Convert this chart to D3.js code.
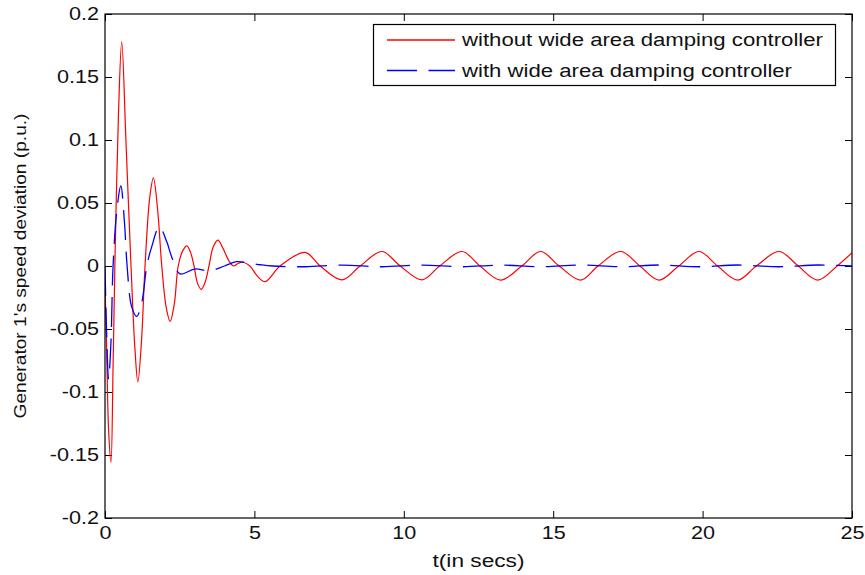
<!DOCTYPE html>
<html>
<head>
<meta charset="utf-8">
<script src="https://cdn.jsdelivr.net/npm/d3@7/dist/d3.min.js"></script>
<style>
  body { margin: 0; background: #fff; }
  text { font-family: "Liberation Sans", Arial, sans-serif; fill: #111; }
</style>
</head>
<body>
<svg id="chart" width="865" height="575"></svg>
<script>
// values: time (s) and speed deviation (p.u.)
var redT = [0, 0.05, 0.12, 0.2, 0.27, 0.33, 0.45, 0.56, 0.7, 0.87, 1.0, 1.1, 1.22, 1.34, 1.5, 1.62, 1.76, 1.9, 2.05, 2.18, 2.32, 2.45, 2.6, 2.74, 2.86, 2.98, 3.1, 3.22, 3.35, 3.48, 3.62, 3.78, 3.95, 4.15, 4.3, 4.45, 4.62, 4.85, 5.1, 5.36, 5.86, 6.7, 7.2, 7.93, 8.54, 9.27, 9.88, 10.61, 11.2, 11.95, 12.55, 13.24, 13.95, 14.58, 15.2, 15.92, 16.5, 17.26, 17.9, 18.54, 19.2, 19.88, 20.5, 21.17, 21.8, 22.56, 23.2, 23.85, 24.5, 25];
var redV = [-0.015, -0.06, -0.13, -0.156, -0.08, 0.0, 0.12, 0.178, 0.1, 0.0, -0.065, -0.092, -0.06, 0.0, 0.055, 0.07, 0.045, 0.0, -0.033, -0.044, -0.03, 0.0, 0.012, 0.016, 0.011, 0.0, -0.014, -0.0185, -0.013, 0.0, 0.015, 0.0206, 0.014, 0.004, 0.0, 0.002, 0.003, 0.0, -0.008, -0.0124, 0.0, 0.0108, 0.0, -0.011, 0.0, 0.0115, 0.0, -0.011, 0.0, 0.0115, 0.0, -0.0112, 0.0, 0.0115, 0.0, -0.0112, 0.0, 0.0115, 0.0, -0.0112, 0.0, 0.0115, 0.0, -0.0112, 0.0, 0.0115, 0.0, -0.0112, 0.0, 0.0105];

var blueT = [0, 0.05, 0.12, 0.2, 0.27, 0.4, 0.53, 0.65, 0.74, 0.89, 1.06, 1.23, 1.4, 1.56, 1.82, 2.07, 2.23, 2.51, 3.0, 3.5, 4.0, 4.4, 4.75, 5.2, 5.6, 6.7, 7.93, 9.27, 10.61, 11.95, 13.24, 14.58, 15.92, 17.26, 18.54, 19.88, 21.17, 22.56, 23.85, 25];
var blueV = [0, -0.05, -0.09, -0.06, 0.0, 0.045, 0.0635, 0.035, 0.0, -0.032, -0.04, -0.029, 0.0, 0.015, 0.031, 0.019, 0.0074, -0.0063, -0.0024, -0.0037, 0.0, 0.0034, 0.0026, 0.001, 0.0, -0.0006, 0.0007, -0.0006, 0.0007, -0.0006, 0.0007, -0.0006, 0.0008, -0.0006, 0.0008, -0.0006, 0.0008, -0.0006, 0.0008, 0.0];

var seriesNames = ["without wide area damping controller", "with wide area damping controller"];
var xTicks = [0, 5, 10, 15, 20, 25];
var yTicks = [-0.2, -0.15, -0.1, -0.05, 0, 0.05, 0.1, 0.15, 0.2];

var plotLeft = 105, plotRight = 852, plotTop = 14, plotBottom = 518;
var svg = d3.select("#chart");

var x = d3.scaleLinear().domain([0, 25]).range([plotLeft, plotRight]);
var y = d3.scaleLinear().domain([-0.2, 0.2]).range([plotBottom, plotTop]);

// clip lines to plot box
svg.append("clipPath").attr("id", "clip")
    .append("rect")
    .attr("x", plotLeft).attr("y", plotTop)
    .attr("width", plotRight - plotLeft).attr("height", plotBottom - plotTop);

// axes, ticks pointing inward like matlab
var fmt = function (d) { return String(+d.toFixed(2)); };

svg.append("g")
    .attr("class", "y-axis")
    .attr("transform", "translate(" + plotLeft + ",0)")
    .call(d3.axisLeft(y).tickValues(yTicks).tickFormat(fmt).tickSizeInner(-7).tickSizeOuter(0).tickPadding(6));

svg.append("g")
    .attr("transform", "translate(" + plotRight + ",0)")
    .call(d3.axisRight(y).tickValues(yTicks).tickFormat("").tickSizeInner(-7).tickSizeOuter(0));

svg.append("g")
    .attr("class", "x-axis")
    .attr("transform", "translate(0," + plotBottom + ")")
    .call(d3.axisBottom(x).tickValues(xTicks).tickFormat(d3.format("d")).tickSizeInner(-7).tickSizeOuter(0).tickPadding(8));

svg.append("g")
    .attr("transform", "translate(0," + plotTop + ")")
    .call(d3.axisTop(x).tickValues(xTicks).tickFormat("").tickSizeInner(-7).tickSizeOuter(0));

svg.selectAll(".domain").remove();
svg.selectAll(".tick line").attr("stroke", "#000");
svg.selectAll(".tick text").attr("font-size", 18).attr("fill", "#111")
    .style("font-family", "'Liberation Sans', Arial, sans-serif");

// lines
var line = d3.line()
    .x(function (d) { return x(d[0]); })
    .y(function (d) { return y(d[1]); })
    .curve(d3.curveCatmullRom.alpha(0.5));

var redData = redT.map(function (t, i) { return [t, redV[i]]; });
var blueData = blueT.map(function (t, i) { return [t, blueV[i]]; });

var plot = svg.append("g").attr("clip-path", "url(#clip)");

plot.append("path")
    .datum(redData)
    .attr("d", line)
    .attr("fill", "none")
    .attr("stroke", "#ff0000")
    .attr("stroke-width", 1.2);

plot.append("path")
    .datum(blueData)
    .attr("d", line)
    .attr("fill", "none")
    .attr("stroke", "#0000ff")
    .attr("stroke-width", 1.3)
    .attr("stroke-dasharray", "30,11.5");

// box
svg.append("rect")
    .attr("x", plotLeft).attr("y", plotTop)
    .attr("width", plotRight - plotLeft).attr("height", plotBottom - plotTop)
    .attr("fill", "none")
    .attr("stroke", "#000")
    .attr("stroke-width", 1.2);

// legend
var legend = svg.append("g").attr("class", "legend");
legend.append("rect")
    .attr("x", 373.5).attr("y", 24.5)
    .attr("width", 462).attr("height", 61)
    .attr("fill", "#fff")
    .attr("stroke", "#000")
    .attr("stroke-width", 1.2);

var legendColors = ["#ff0000", "#0000ff"];
var legendDash = [null, "30,11.5"];
var legendLen = [361, 330];

seriesNames.forEach(function (name, i) {
    var ly = 40 + i * 30.5;
    legend.append("line")
        .attr("x1", 387).attr("x2", 455)
        .attr("y1", ly).attr("y2", ly)
        .attr("stroke", legendColors[i])
        .attr("stroke-width", 1.3)
        .attr("stroke-dasharray", legendDash[i]);
    legend.append("text")
        .attr("x", 462)
        .attr("y", ly + 6)
        .attr("font-size", 18)
        .attr("textLength", legendLen[i])
        .attr("lengthAdjust", "spacingAndGlyphs")
        .text(name);
});

// axis labels
svg.append("text")
    .attr("x", (plotLeft + plotRight) / 2)
    .attr("y", 567)
    .attr("text-anchor", "middle")
    .attr("font-size", 18)
    .attr("textLength", 92)
    .attr("lengthAdjust", "spacingAndGlyphs")
    .text("t(in secs)");

svg.append("text")
    .attr("transform", "translate(26," + ((plotTop + plotBottom) / 2) + ") rotate(-90)")
    .attr("text-anchor", "middle")
    .attr("font-size", 17)
    .attr("textLength", 305)
    .attr("lengthAdjust", "spacingAndGlyphs")
    .text("Generator 1's speed deviation (p.u.)");

// tick labels look a little stretched sideways in the picture
svg.selectAll(".tick text").each(function () {
    var w = this.getComputedTextLength();
    if (w > 0) {
        d3.select(this).attr("textLength", w * 1.2).attr("lengthAdjust", "spacingAndGlyphs");
    }
});
</script>
</body>
</html>
